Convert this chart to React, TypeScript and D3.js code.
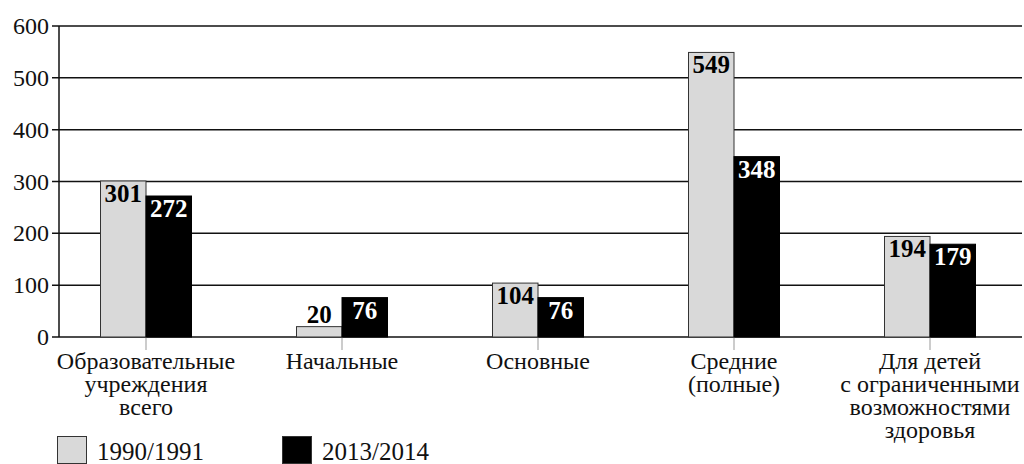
import * as d3 from 'd3';

const categories = [
  ['Образовательные', 'учреждения', 'всего'],
  ['Начальные'],
  ['Основные'],
  ['Средние', '(полные)'],
  ['Для детей', 'с ограниченными', 'возможностями', 'здоровья'],
];
const series1990 = [301, 20, 104, 549, 194];
const series2013 = [272, 76, 76, 348, 179];
const seriesNames = ['1990/1991', '2013/2014'];
const yTicks = [0, 100, 200, 300, 400, 500, 600];

const W = 1024;
const H = 464;
const font = "'Liberation Serif', 'Times New Roman', serif";

export default function App() {
  const axisX = 59;
  const x = d3.scaleBand<number>().domain(d3.range(categories.length)).range([48, 1028]);
  const y = d3.scaleLinear().domain([0, 600]).range([337, 26]);
  const barW = 45.5;

  const bars = categories.map((_, i) => {
    const cx = (x(i) ?? 0) + x.bandwidth() / 2;
    return [
      { x: cx - barW, v: series1990[i], fill: '#d9d9d9', text: '#000' },
      { x: cx, v: series2013[i], fill: '#000', text: '#fff' },
    ];
  });

  return (
    <svg width={W} height={H} style={{ position: 'absolute', left: 0, top: 0, fontFamily: font }}>
      <rect width={W} height={H} fill="#fff" />
      {/* grid + y ticks */}
      {yTicks.map((t) => (
        <g key={t}>
          <line x1={52} x2={1022} y1={y(t)} y2={y(t)} stroke="#111" strokeWidth={1.5} />
          <text x={49} y={y(t) + 8} textAnchor="end" fontSize={24} fill="#111" style={{ fontFamily: font }}>
            {t}
          </text>
        </g>
      ))}
      <line x1={axisX} x2={axisX} y1={y(600)} y2={y(0)} stroke="#111" strokeWidth={1.5} />

      {/* category ticks */}
      {categories.map((_, i) => {
        const cx = (x(i) ?? 0) + x.bandwidth() / 2;
        return <line key={i} x1={cx} x2={cx} y1={y(0)} y2={y(0) + 13} stroke="#999" strokeWidth={1} />;
      })}

      {/* bars */}
      {bars.map((pair, i) => (
        <g key={i}>
          {pair.map((b, j) => {
            const top = y(b.v);
            const h = y(0) - top;
            const inside = h > 30;
            return (
              <g key={j}>
                <rect
                  x={b.x}
                  y={top}
                  width={barW}
                  height={h}
                  fill={b.fill}
                  stroke={j === 0 ? '#333' : '#000'}
                  strokeWidth={1}
                />
                <text
                  x={b.x + barW / 2}
                  y={inside ? top + 21 : top - 4}
                  textAnchor="middle"
                  fontSize={25}
                  fontWeight="bold"
                  fill={inside ? b.text : '#000'}
                  style={{ fontFamily: font }}
                >
                  {b.v}
                </text>
              </g>
            );
          })}
        </g>
      ))}

      {/* category labels */}
      {categories.map((lines, i) => {
        const cx = (x(i) ?? 0) + x.bandwidth() / 2;
        return (
          <text key={i} textAnchor="middle" fontSize={24} fill="#111" style={{ fontFamily: font }}>
            {lines.map((l, k) => (
              <tspan key={k} x={cx} y={369 + k * 23}>
                {l}
              </tspan>
            ))}
          </text>
        );
      })}

      {/* legend */}
      {seriesNames.map((name, i) => (
        <g key={name} transform={`translate(${57 + i * 225},436)`}>
          <rect x={0.5} y={0.5} width={29} height={27} fill={i === 0 ? '#d9d9d9' : '#000'} stroke="#333" />
          <text x={40} y={24} fontSize={25} fill="#111" style={{ fontFamily: font }}>
            {name}
          </text>
        </g>
      ))}
    </svg>
  );
}
